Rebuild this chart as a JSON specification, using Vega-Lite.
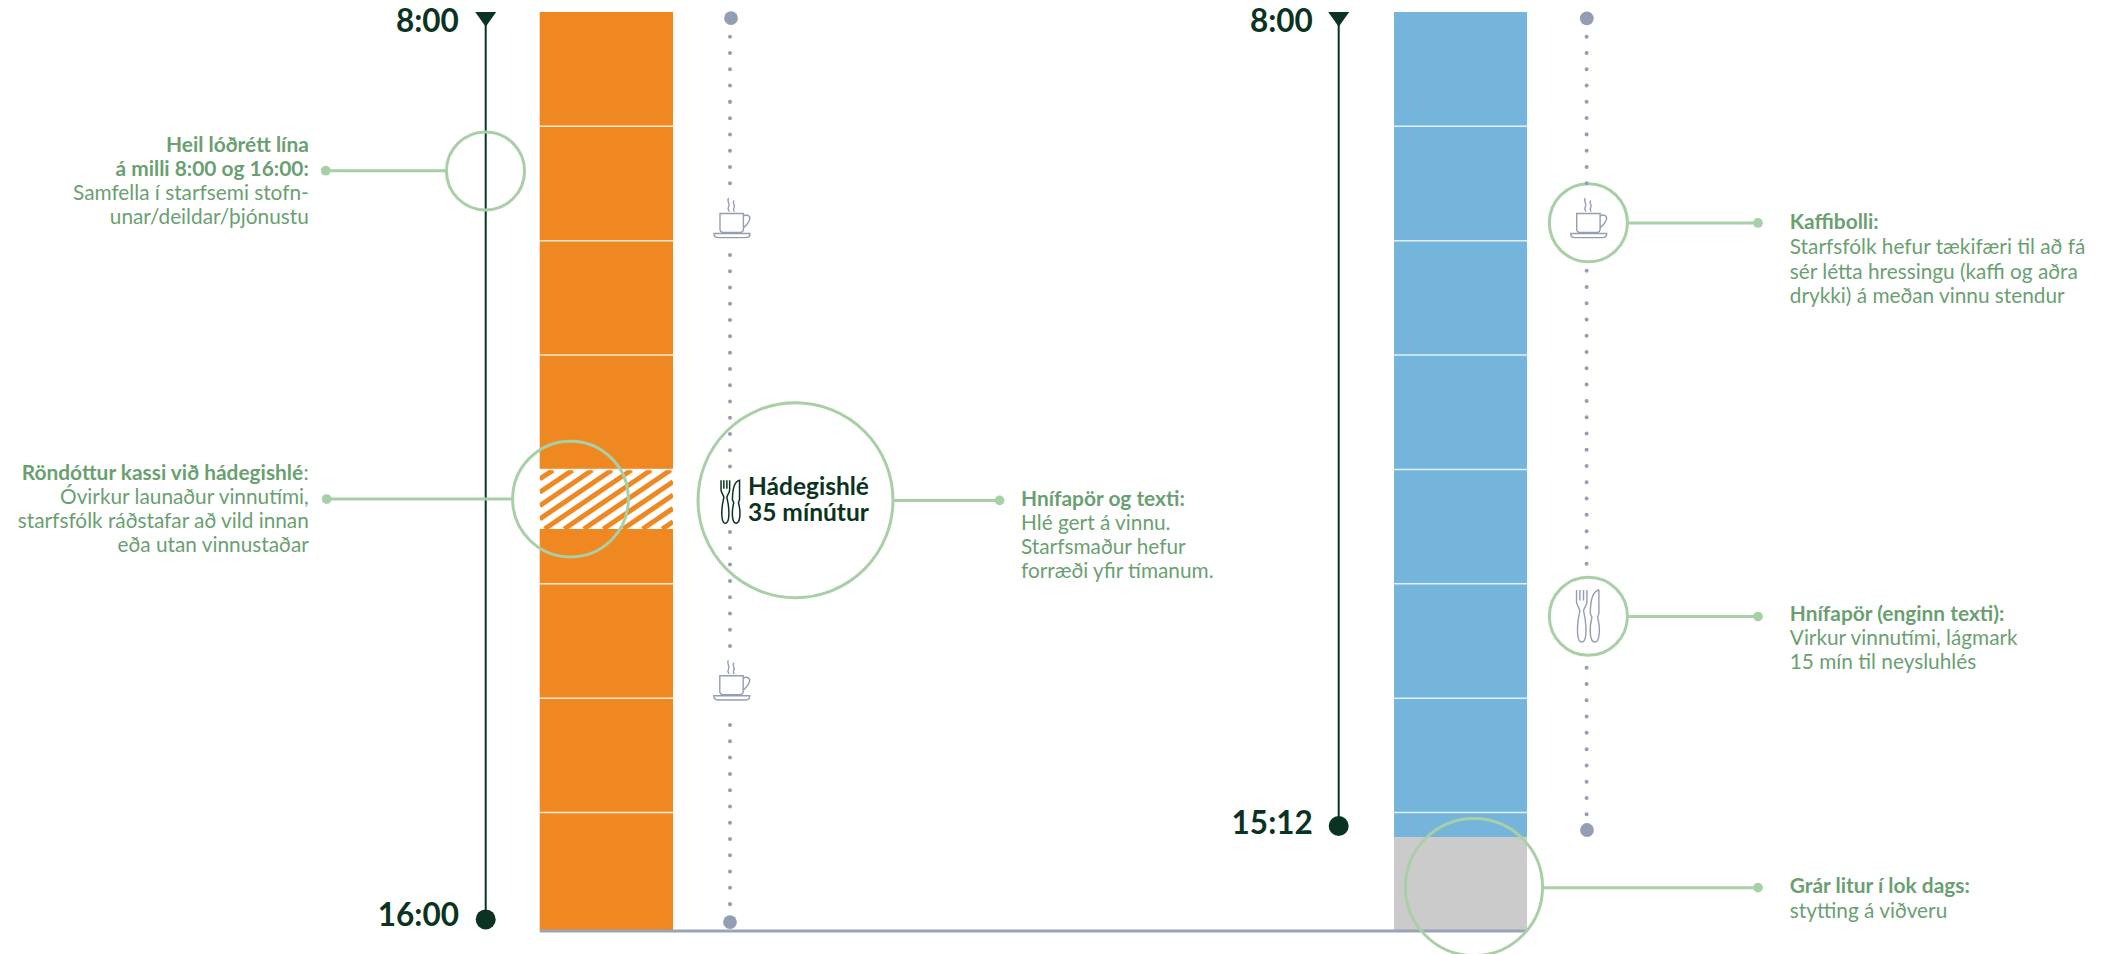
{
"$schema":"https://vega.github.io/schema/vega-lite/v6.json",
"width":2102,"height":954,"padding":0,
"autosize":{"type":"none"},
"background":"#ffffff",
"view":{"stroke":null},
"encoding":{
 "x":{"field":"x","type":"quantitative","scale":{"domain":[0,2102],"nice":false,"zero":false},"axis":null},
 "y":{"field":"h","type":"quantitative","scale":{"domain":[7.8953,16.2199],"nice":false,"zero":false,"reverse":true},"axis":null}
},
"layer":[
 {"data":{"values":[{"x":529,"x2":683,"h":11.97,"h2":12.53}]},"mark":{"type":"rect","color":"#ffffff"},"encoding":{"x2":{"field":"x2"},"y2":{"field":"h2"}}},
 {"data":{"values":[
  {"x":539.7,"h":12.075,"x2":553,"h2":11.997},
  {"x":539.7,"h":12.191,"x2":572.6,"h2":11.997},
  {"x":539.7,"h":12.308,"x2":592.2,"h2":11.997},
  {"x":539.7,"h":12.424,"x2":611.8,"h2":11.997},
  {"x":544.6,"h":12.511,"x2":631.4,"h2":11.997},
  {"x":564.2,"h":12.511,"x2":651,"h2":11.997},
  {"x":583.8,"h":12.511,"x2":670.6,"h2":11.997},
  {"x":603.4,"h":12.511,"x2":673,"h2":12.099},
  {"x":623,"h":12.511,"x2":673,"h2":12.215},
  {"x":642.6,"h":12.511,"x2":673,"h2":12.331},
  {"x":662.2,"h":12.511,"x2":673,"h2":12.448}
 ]},"mark":{"type":"rule","color":"#f08822","strokeWidth":5},"encoding":{"x2":{"field":"x2"},"y2":{"field":"h2"}}},
 {"data":{"values":[
  {"x":529,"x2":539.7,"h":11.97,"h2":12.53},
  {"x":673,"x2":683,"h":11.97,"h2":12.53}
 ]},"mark":{"type":"rect","color":"#ffffff"},"encoding":{"x2":{"field":"x2"},"y2":{"field":"h2"}}},
 {"data":{"values":[
  {"x":539.7,"x2":673,"h":8,"h2":11.993,"part":"orange"},
  {"x":539.7,"x2":673,"h":12.511,"h2":16.01,"part":"orange"},
  {"x":1394,"x2":1527,"h":8,"h2":15.2,"part":"blue"},
  {"x":1394,"x2":1527,"h":15.2,"h2":16.01,"part":"grey"}
 ]},"mark":{"type":"rect"},"encoding":{"x2":{"field":"x2"},"y2":{"field":"h2"},"color":{"field":"part","type":"nominal","scale":{"domain":["orange","blue","grey"],"range":["#f08822","#75b5dc","#cbcbcb"]},"legend":null}}},
 {"data":{"values":[
  {"x":539.7,"x2":673,"h":8.998},{"x":539.7,"x2":673,"h":9.997},{"x":539.7,"x2":673,"h":10.994},{"x":539.7,"x2":673,"h":11.993},{"x":539.7,"x2":673,"h":12.989},{"x":539.7,"x2":673,"h":13.988},{"x":539.7,"x2":673,"h":14.986},
  {"x":1394,"x2":1527,"h":8.998},{"x":1394,"x2":1527,"h":9.997},{"x":1394,"x2":1527,"h":10.994},{"x":1394,"x2":1527,"h":11.993},{"x":1394,"x2":1527,"h":12.989},{"x":1394,"x2":1527,"h":13.988},{"x":1394,"x2":1527,"h":14.986}
 ]},"mark":{"type":"rule","color":"#ffffff","strokeWidth":1.5,"opacity":0.8},"encoding":{"x2":{"field":"x2"}}},
 {"data":{"values":[{"x":539.7,"x2":1527,"h":16.02}]},"mark":{"type":"rule","color":"#9aa3b8","strokeWidth":3},"encoding":{"x2":{"field":"x2"}}},
 {"data":{"values":[{"x":485.7,"h":8,"h2":15.918},{"x":1338.7,"h":8,"h2":15.103}]},"mark":{"type":"rule","color":"#0a3321","strokeWidth":2},"encoding":{"y2":{"field":"h2"}}},
 {"data":{"values":[{"x":485.7,"h":8.065},{"x":1338.7,"h":8.065}]},"mark":{"type":"point","shape":"M-1 -0.7L1 -0.7L0 0.7Z","size":441,"filled":true,"color":"#0a3321","opacity":1}},
 {"data":{"values":[{"x":485.7,"h":15.918},{"x":1338.7,"h":15.103}]},"mark":{"type":"circle","size":400,"color":"#0a3321","opacity":1}},
 {"data":{"values":[{"x":795.5,"h":12.26}]},"mark":{"type":"point","shape":"circle","size":38000,"fill":"#ffffff","fillOpacity":1,"stroke":"#a9cfa7","strokeWidth":3,"opacity":1}},
 {"data":{"values":[{"x":1588.4,"h":9.839},{"x":1588.4,"h":13.273}]},"mark":{"type":"point","shape":"circle","size":6100,"fill":"#ffffff","fillOpacity":1,"stroke":"#a9cfa7","strokeWidth":3,"opacity":1}},
 {"data":{"values":[
  {"x":730,"h":8.216,"h2":9.501},{"x":730,"h":10.12,"h2":11.975},{"x":730,"h":12.538,"h2":13.541},{"x":730,"h":14.222,"h2":15.792},
  {"x":1586.6,"h":8.2155,"h2":9.501},{"x":1586.6,"h":10.257,"h2":12.817},{"x":1586.6,"h":13.722,"h2":15.007}
 ]},"mark":{"type":"rule","color":"#939db4","strokeWidth":4,"strokeCap":"round","strokeDash":[0.01,16.27]},"encoding":{"y2":{"field":"h2"}}},
 {"data":{"values":[{"x":731,"h":8.054},{"x":730,"h":15.941},{"x":1586.8,"h":8.055},{"x":1587,"h":15.138}]},"mark":{"type":"circle","size":190,"color":"#939db4","opacity":1}},
 {"data":{"values":[{"x":732,"h":9.798},{"x":731.8,"h":13.832},{"x":1588.7,"h":9.798}]},"mark":{"type":"point","shape":"M-0.6 -0.23H0.57V0.55Q0.57 0.72 0.4 0.72H-0.43Q-0.6 0.72 -0.6 0.55Z M0.57 -0.1C0.75 -0.22 0.95 -0.1 0.88 0.08C0.82 0.25 0.65 0.42 0.57 0.5 M-0.9 0.77H0.9Q0.9 0.98 0.68 0.98H-0.68Q-0.9 0.98 -0.9 0.77Z M-0.17 -1C-0.3 -0.85 -0.05 -0.72 -0.17 -0.55C-0.25 -0.45 -0.15 -0.38 -0.14 -0.32 M0.1 -0.88C-0.02 -0.75 0.2 -0.65 0.1 -0.5C0.03 -0.42 0.1 -0.36 0.12 -0.32","size":1600,"fill":"#ffffff","fillOpacity":0,"stroke":"#939db4","strokeWidth":1.4,"opacity":1}},
 {"data":{"values":[{"x":1587.7,"h":13.271}]},"mark":{"type":"point","shape":"M-0.43 -1V-0.55C-0.43 -0.4 -0.33 -0.35 -0.3 -0.2L-0.36 0.1C-0.42 0.5 -0.42 1 -0.23 1C-0.04 1 -0.04 0.5 -0.1 0.1L-0.16 -0.2C-0.13 -0.35 -0.03 -0.4 -0.03 -0.55V-1 M-0.3 -1V-0.6 M-0.16 -1V-0.6 M0.43 -1C0.2 -0.95 0.1 -0.6 0.1 -0.1L0.16 0.05C0.05 0.5 0.08 1 0.27 1C0.46 1 0.5 0.5 0.38 0.05L0.43 -0.1Z","size":2704,"fillOpacity":0,"fill":"#ffffff","stroke":"#939db4","strokeWidth":1.4,"opacity":1}},
 {"data":{"values":[{"x":730.3,"h":12.273}]},"mark":{"type":"point","shape":"M-0.43 -1V-0.55C-0.43 -0.4 -0.33 -0.35 -0.3 -0.2L-0.36 0.1C-0.42 0.5 -0.42 1 -0.23 1C-0.04 1 -0.04 0.5 -0.1 0.1L-0.16 -0.2C-0.13 -0.35 -0.03 -0.4 -0.03 -0.55V-1 M-0.3 -1V-0.6 M-0.16 -1V-0.6 M0.43 -1C0.2 -0.95 0.1 -0.6 0.1 -0.1L0.16 0.05C0.05 0.5 0.08 1 0.27 1C0.46 1 0.5 0.5 0.38 0.05L0.43 -0.1Z","size":1849,"fillOpacity":0,"fill":"#ffffff","stroke":"#0a3321","strokeWidth":1.5,"opacity":1}},
 {"data":{"values":[{"x":485.5,"h":9.387}]},"mark":{"type":"point","shape":"circle","size":6100,"filled":false,"stroke":"#a9cfa7","strokeWidth":3,"opacity":1}},
 {"data":{"values":[{"x":570.5,"h":12.25}]},"mark":{"type":"point","shape":"circle","size":13400,"filled":false,"stroke":"#a9cfa7","strokeWidth":3,"opacity":1}},
 {"data":{"values":[{"x":1474,"h":15.635}]},"mark":{"type":"point","shape":"circle","size":18800,"filled":false,"stroke":"#a9cfa7","strokeWidth":3,"opacity":1}},
 {"data":{"values":[
  {"x":325.7,"x2":446,"h":9.385},{"x":326.7,"x2":512,"h":12.25},{"x":893.5,"x2":999.6,"h":12.262},
  {"x":1627.5,"x2":1758,"h":9.841},{"x":1627.5,"x2":1758,"h":13.275},{"x":1543,"x2":1758,"h":15.641}
 ]},"mark":{"type":"rule","color":"#a9cfa7","strokeWidth":3},"encoding":{"x2":{"field":"x2"}}},
 {"data":{"values":[{"x":325.7,"h":9.385},{"x":326.7,"h":12.25},{"x":999.6,"h":12.262},{"x":1758,"h":9.841},{"x":1758,"h":13.275},{"x":1758,"h":15.641}]},"mark":{"type":"circle","size":95,"color":"#a9cfa7","opacity":1}},
 {"data":{"values":[
  {"x":458.8,"h":8.098,"t":"8:00"},{"x":459,"h":15.897,"t":"16:00"},{"x":1312.8,"h":8.093,"t":"8:00"},{"x":1312.8,"h":15.094,"t":"15:12"}
 ]},"mark":{"type":"text","align":"right","baseline":"middle","font":"Lato","fontWeight":"bold","fontSize":31.5,"color":"#0a3321"},"encoding":{"text":{"field":"t"}}},
 {"data":{"values":[
  {"x":748,"h":12.156,"t":"Hádegishlé"},{"x":748,"h":12.38,"t":"35 mínútur"}
 ]},"mark":{"type":"text","align":"left","baseline":"middle","font":"Lato","fontWeight":"bold","fontSize":24.5,"color":"#0a3321"},"encoding":{"text":{"field":"t"}}},
 {"data":{"values":[
  {"x":308.8,"h":9.167,"t":"Heil lóðrétt lína"},{"x":308.8,"h":9.379,"t":"á milli 8:00 og 16:00:"},
  {"x":303.2,"h":12.034,"t":"Röndóttur kassi við hádegishlé"}
 ]},"mark":{"type":"text","align":"right","baseline":"middle","font":"Lato","fontWeight":"bold","fontSize":20.9,"color":"#6a9f72"},"encoding":{"text":{"field":"t"}}},
 {"data":{"values":[
  {"x":308.8,"h":9.588,"t":"Samfella í starfsemi stofn-"},{"x":308.8,"h":9.798,"t":"unar/deildar/þjónustu"},
  {"x":308.8,"h":12.034,"t":":"},{"x":308.8,"h":12.24,"t":"Óvirkur launaður vinnutími,"},{"x":308.8,"h":12.45,"t":"starfsfólk ráðstafar að vild innan"},{"x":308.8,"h":12.663,"t":"eða utan vinnustaðar"}
 ]},"mark":{"type":"text","align":"right","baseline":"middle","font":"Lato","fontSize":20.8,"color":"#6a9f72"},"encoding":{"text":{"field":"t"}}},
 {"data":{"values":[
  {"x":1021,"h":12.255,"t":"Hnífapör og texti:"},{"x":1789.8,"h":9.844,"t":"Kaffibolli:"},{"x":1789.8,"h":13.262,"t":"Hnífapör (enginn texti):"},{"x":1789.8,"h":15.633,"t":"Grár litur í lok dags:"}
 ]},"mark":{"type":"text","align":"left","baseline":"middle","font":"Lato","fontWeight":"bold","fontSize":20.9,"color":"#6a9f72"},"encoding":{"text":{"field":"t"}}},
 {"data":{"values":[
  {"x":1021,"h":12.465,"t":"Hlé gert á vinnu."},{"x":1021,"h":12.675,"t":"Starfsmaður hefur"},{"x":1021,"h":12.884,"t":"forræði yfir tímanum."},
  {"x":1789.8,"h":10.059,"t":"Starfsfólk hefur tækifæri til að fá"},{"x":1789.8,"h":10.275,"t":"sér létta hressingu (kaffi og aðra"},{"x":1789.8,"h":10.484,"t":"drykki) á meðan vinnu stendur"},
  {"x":1789.8,"h":13.469,"t":"Virkur vinnutími, lágmark"},{"x":1789.8,"h":13.678,"t":"15 mín til neysluhlés"},
  {"x":1789.8,"h":15.851,"t":"stytting á viðveru"}
 ]},"mark":{"type":"text","align":"left","baseline":"middle","font":"Lato","fontSize":20.8,"color":"#6a9f72"},"encoding":{"text":{"field":"t"}}}
]
}
